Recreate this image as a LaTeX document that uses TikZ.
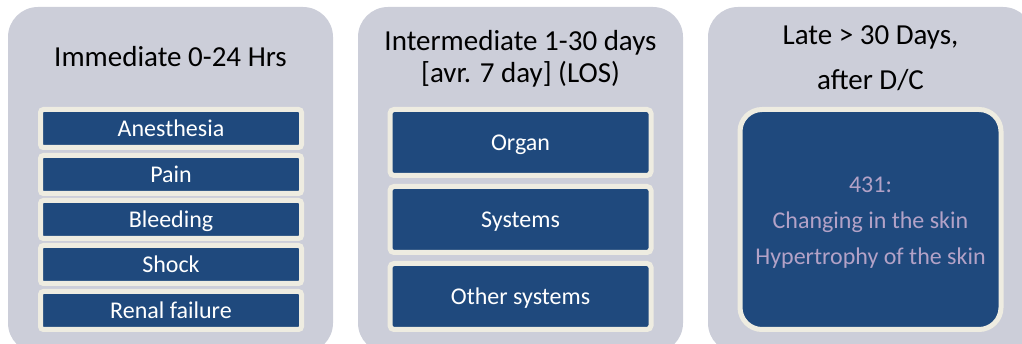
\documentclass[tikz,border=0pt]{standalone}
\usepackage{fontspec}
\setmainfont{Carlito}
\definecolor{panelgray}{RGB}{204,206,217}
\definecolor{darkblue}{RGB}{31,73,125}
\definecolor{cream}{RGB}{238,236,225}
\definecolor{lavtext}{RGB}{179,162,199}
\tikzset{
  panel/.style={fill=panelgray, draw=none, rounded corners=30pt, minimum width=325pt, minimum height=346pt, inner sep=0pt},
  titletext/.style={font=\fontsize{29}{33}\selectfont, text=black, align=center, inner sep=0pt, anchor=base},
  smallbox/.style={fill=darkblue, draw=cream, line width=5pt, rounded corners=3pt, minimum width=261pt, minimum height=38pt, inner sep=0pt, text=white, font=\fontsize{24}{28}\selectfont, text height=16pt, text depth=0pt},
  midbox/.style={smallbox, minimum height=66pt, rounded corners=4pt, text height=17pt},
  bigbox/.style={fill=darkblue, draw=cream, line width=5pt, rounded corners=22pt, minimum width=261pt, minimum height=220pt, inner sep=0pt, text=lavtext, align=center, font=\fontsize{24}{36}\selectfont, text height=91pt, text depth=0pt}
}
\begin{document}
\begin{tikzpicture}[x=1pt,y=-1pt]
\useasboundingbox (0,0) rectangle (1022,344);
\clip (0,0) rectangle (1022,344);
% panels
\node[panel] (p1) at (170.5,180) {};
\node[panel] (p2) at (520.5,180) {};
\node[panel] (p3) at (870.5,180) {};
% titles (base anchor = last line)
\node[titletext] (t1) at (170.5,67) {Immediate 0-24 Hrs};
\node[titletext, font=\fontsize{29}{32}\selectfont] (t2) at (520.5,83) {Intermediate 1-30 days\\{[}avr. 7 day{]} (LOS)};
\node[titletext, font=\fontsize{29}{45}\selectfont] (t3) at (870.5,90) {Late > 30 Days,\\after D/C};
% panel 1 boxes
\node[smallbox] (a1) at (171,128.5) {Anesthesia};
\node[smallbox] (a2) at (171,174.5) {Pain};
\node[smallbox] (a3) at (171,219.5) {Bleeding};
\node[smallbox] (a4) at (171,264.5) {Shock};
\node[smallbox] (a5) at (171,310.5) {Renal failure};
% panel 2 boxes
\node[midbox] (b1) at (520.5,142.5) {Organ};
\node[midbox] (b2) at (520.5,219.5) {Systems};
\node[midbox] (b3) at (520.5,296.5) {Other systems};
% panel 3 box
\node[bigbox] (c1) at (870.5,219.5) {431:\\Changing in the skin\\Hypertrophy of the skin};
\end{tikzpicture}
\end{document}
